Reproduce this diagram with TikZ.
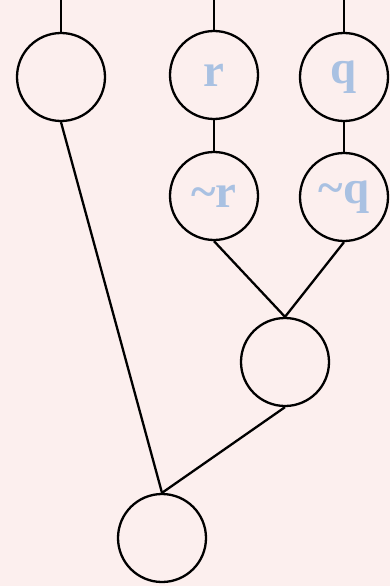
\documentclass[tikz,border=0pt]{standalone}
\usepackage{fontspec}
\setmainfont{Liberation Serif}
\definecolor{bgpink}{HTML}{FCEFEE}
\definecolor{lblue}{HTML}{A9C1E2}
\begin{document}
\begin{tikzpicture}[x=1pt,y=-1pt,
  tnode/.style={circle,draw=black,line width=2.3pt,minimum size=88pt,inner sep=0pt,
    font=\fontsize{47}{47}\selectfont\bfseries,text=lblue},
  conn/.style={draw=black,line width=2.3pt}]
\fill[bgpink] (0,0) rectangle (390,586);
\useasboundingbox (0,0) rectangle (390,586);
\node[tnode] (p) at (61,77) {};
\node[tnode] (r) at (214,75) {r};
\node[tnode] (q) at (344,77) {q};
\node[tnode] (nr) at (214,196) {\textasciitilde r};
\node[tnode] (nq) at (344,197) {\textasciitilde q};
\node[tnode] (m) at (285,362) {};
\node[tnode] (b) at (162,538) {};
\coordinate (tp) at (61,0);
\coordinate (tr) at (214,0);
\coordinate (tq) at (344,0);
\draw[conn] (tp) -- (p.north);
\draw[conn] (tr) -- (r.north);
\draw[conn] (tq) -- (q.north);
\draw[conn] (r.south) -- (nr.north);
\draw[conn] (q.south) -- (nq.north);
\draw[conn] (nr.south) -- (m.north);
\draw[conn] (nq.south) -- (m.north);
\draw[conn] (m.south) -- (b.north);
\draw[conn] (p.south) -- (b.north);
\end{tikzpicture}
\end{document}
